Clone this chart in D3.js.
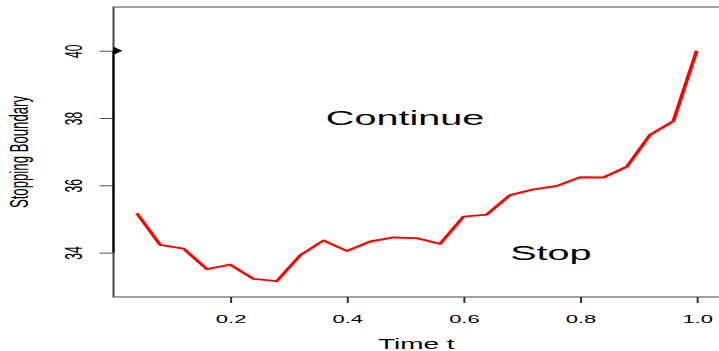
<!DOCTYPE html>
<html>
<head>
<meta charset="utf-8">
<script src="https://cdn.jsdelivr.net/npm/d3@7"></script>
<style>
  body { margin: 0; background: #fff; }
  text { font-family: "Liberation Sans", Arial, Helvetica, sans-serif; }
</style>
</head>
<body>
<div id="chart"></div>
<script>
// time points and boundary values
var times = [0.04, 0.08, 0.12, 0.16, 0.20, 0.24, 0.28, 0.32, 0.36, 0.40, 0.44, 0.48, 0.52,
             0.56, 0.60, 0.64, 0.68, 0.72, 0.76, 0.80, 0.84, 0.88, 0.92, 0.96, 1.00];
var boundary = [35.17, 34.23, 34.12, 33.51, 33.64, 33.22, 33.15, 33.92, 34.36, 34.05, 34.33, 34.45, 34.43,
                34.26, 35.07, 35.13, 35.71, 35.88, 35.98, 36.24, 36.23, 36.55, 37.50, 37.91, 40.00];
var xTicks = [0.2, 0.4, 0.6, 0.8, 1.0];
var yTicks = [34, 36, 38, 40];
var regionLabels = ["Continue", "Stop"];
var regionX = [0.5, 0.75];
var regionY = [38, 34];

var W = 719, H = 351;
// the picture is drawn at half width and stretched 2x horizontally
var innerW = W / 2;
var plotLeft = 56.75, plotTop = 7, plotBottom = 297;

var svg = d3.select("#chart").append("svg")
	.attr("width", W)
	.attr("height", H);

var g = svg.append("g").attr("transform", "scale(2,1)");

var x = d3.scaleLinear()
	.domain([0, 1.04])
	.range([plotLeft, innerW + 0.5]);

var y = d3.scaleLinear()
	.domain([32.68, 41.3])
	.range([plotBottom, plotTop]);

// box
g.append("rect")
	.attr("x", plotLeft)
	.attr("y", plotTop)
	.attr("width", x(1.04) - plotLeft)
	.attr("height", plotBottom - plotTop)
	.attr("fill", "none")
	.attr("stroke", "#444")
	.attr("stroke-width", 1);

var xAxis = g.append("g")
	.attr("transform", `translate(0,${plotBottom})`)
	.call(d3.axisBottom(x).tickValues(xTicks).tickSize(6).tickFormat(d3.format(".1f")));
xAxis.select(".domain").remove();
xAxis.selectAll("line").attr("stroke", "#333");
xAxis.selectAll("text")
	.attr("y", 26)
	.attr("dy", null)
	.attr("font-size", 11)
	.attr("fill", "#000")
	.style("font-family", "'Liberation Sans', Arial, sans-serif");

var yAxis = g.append("g")
	.attr("transform", `translate(${plotLeft},0)`)
	.call(d3.axisLeft(y).tickValues(yTicks).tickSize(7));
yAxis.select(".domain").remove();
yAxis.selectAll("line").attr("stroke", "#555");
yAxis.selectAll("text")
	.attr("x", null)
	.attr("dy", null)
	.attr("text-anchor", "middle")
	.attr("transform", `translate(${40.8 - plotLeft},0) rotate(-90)`)
	.attr("font-size", 12)
	.attr("fill", "#000")
	.style("font-family", "'Liberation Sans', Arial, sans-serif");

// segment with arrow at t = 0
g.append("line")
	.attr("x1", x(0)).attr("x2", x(0))
	.attr("y1", y(34)).attr("y2", y(40))
	.attr("stroke", "#000")
	.attr("stroke-width", 1.05);
g.append("path")
	.attr("d", `M${x(0)},${y(40) - 4}L${x(0) + 4.5},${y(40)}L${x(0)},${y(40) + 4}Z`)
	.attr("fill", "#000");

// boundary line
var line = d3.line()
	.x((d, i) => x(times[i]))
	.y(d => y(d));

g.append("path")
	.datum(boundary)
	.attr("d", line)
	.attr("fill", "none")
	.attr("stroke", "#ff0000")
	.attr("stroke-width", 1.9)
	.attr("stroke-linejoin", "round");

g.selectAll(".region")
	.data(regionLabels)
	.enter()
	.append("text")
	.attr("class", "region")
	.attr("x", (d, i) => x(regionX[i]))
	.attr("y", (d, i) => y(regionY[i]))
	.attr("dy", "0.35em")
	.attr("text-anchor", "middle")
	.attr("font-size", 19.8)
	.text(d => d);

g.append("text")
	.attr("x", (plotLeft + innerW) / 2)
	.attr("y", 349)
	.attr("text-anchor", "middle")
	.attr("font-size", 14)
	.text("Time t");

g.append("text")
	.attr("transform", `translate(13.75,${(plotTop + plotBottom) / 2}) rotate(-90)`)
	.attr("text-anchor", "middle")
	.attr("font-size", 13.2)
	.text("Stopping Boundary");
</script>
</body>
</html>
